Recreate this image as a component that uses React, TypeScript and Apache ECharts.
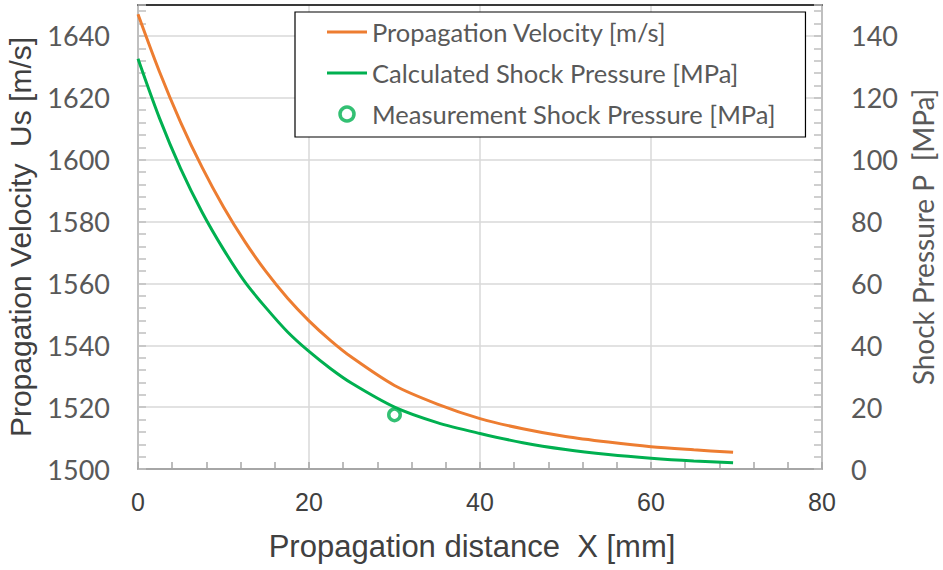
import React, { useEffect, useRef } from "react";
import * as echarts from "echarts";

const distanceMm = [0, 2.5, 5, 7.5, 10, 12.5, 15, 17.5, 20, 22.5, 25, 30, 35, 40, 45, 50, 55, 60, 65, 69.6];
const velocity = [1647, 1628.5, 1612, 1597.5, 1584.7, 1573.5, 1563.7, 1555.2, 1547.9, 1541.6, 1536.1, 1527, 1521, 1516.3, 1513, 1510.5, 1508.7, 1507.2, 1506.2, 1505.4];
const pressureCalc = [132.6, 113.5, 97, 83, 71, 60.5, 52, 44.3, 38, 32.5, 27.7, 20, 15, 11.5, 8.5, 6.3, 4.7, 3.5, 2.6, 2.0];
const measX = [30];
const measP = [17.5];

const seriesNames = [
  "Propagation Velocity [m/s]",
  "Calculated Shock Pressure [MPa]",
  "Measurement Shock Pressure [MPa]",
];

const ORANGE = "#ED7D31";
const GREEN = "#00B050";
const GRID = "#D9D9D9";
const AXIS = "#BFBFBF";
const CAL = "Lato, 'Noto Sans', sans-serif";
const ARIAL = "'Liberation Sans', Arial, sans-serif";
const LINE_ICON = "path://M0,0 L40,0 L40,3 L0,3 Z";

export default function App() {
  const ref = useRef<HTMLDivElement>(null);
  useEffect(() => {
    if (!ref.current) return;
    const chart = echarts.init(ref.current, undefined, { renderer: "svg" });
    const tickAxisY = (min: number, max: number, position: string) => ({
      type: "value",
      min,
      max,
      interval: 4,
      position,
      axisLine: { show: false, onZero: false },
      axisTick: { show: true, inside: true, length: 8, lineStyle: { color: AXIS, width: 1.5 } },
      axisLabel: { show: false },
      splitLine: { show: false },
    });
    const fmt = (v: number) => String(v);
    chart.setOption({
      animation: false,
      backgroundColor: "#fff",
      grid: { left: 138, right: 121, top: 5, bottom: 101, outerBoundsMode: "none" },
      legend: {
        orient: "vertical",
        left: 295,
        top: 12,
        padding: [6, 30, 9, 32],
        itemGap: 13,
        itemWidth: 40,
        itemHeight: 14,
        borderColor: "#000",
        borderWidth: 1.2,
        backgroundColor: "#fff",
        textStyle: { fontFamily: CAL, fontSize: 25.5, color: "#595959", lineHeight: 28 },
        data: [
          { name: seriesNames[0], icon: LINE_ICON },
          { name: seriesNames[1], icon: LINE_ICON },
          {
            name: seriesNames[2],
            icon: "circle",
            itemStyle: { color: "#fff", borderColor: GREEN, borderWidth: 3.5 },
          },
        ],
      },
      xAxis: [
        {
          type: "value",
          min: 0,
          max: 80,
          interval: 20,
          position: "bottom",
          axisLine: { show: true, onZero: false, lineStyle: { color: "#A6A6A6", width: 2 } },
          axisTick: { show: true, inside: true, length: 7, lineStyle: { color: "#A6A6A6", width: 1.5 } },
          minorTick: { show: true, splitNumber: 5, length: 7, lineStyle: { color: "#A6A6A6", width: 1.5 } },
          splitLine: { show: true, lineStyle: { color: GRID, width: 1.5 } },
          axisLabel: { fontFamily: ARIAL, fontSize: 25, color: "#404040", margin: 20, formatter: fmt },
          name: "Propagation distance  X [mm]",
          nameLocation: "middle",
          nameGap: 62,
          nameMoveOverlap: false,
          nameTextStyle: { fontFamily: ARIAL, fontSize: 31, color: "#404040", padding: [0, 16, 0, 0] },
        },
        {
          type: "value",
          min: 0,
          max: 80,
          position: "top",
          axisLine: { show: true, onZero: false, lineStyle: { color: "#000", width: 1.5 } },
          axisTick: { show: false },
          axisLabel: { show: false },
          splitLine: { show: false },
        },
      ],
      yAxis: [
        {
          type: "value",
          min: 1500,
          max: 1650,
          interval: 20,
          position: "left",
          axisLine: { show: true, onZero: false, lineStyle: { color: AXIS, width: 2 } },
          axisTick: { show: false },
          splitLine: { show: true, lineStyle: { color: GRID, width: 1.5 } },
          axisLabel: { fontFamily: CAL, fontSize: 27, color: "#595959", margin: 28, showMaxLabel: false, formatter: fmt },
          name: "Propagation Velocity  Us [m/s]",
          nameLocation: "middle",
          nameRotate: 90,
          nameGap: 103,
          nameMoveOverlap: false,
          nameTextStyle: { fontFamily: ARIAL, fontSize: 30, color: "#404040" },
        },
        {
          type: "value",
          min: 0,
          max: 150,
          interval: 20,
          position: "right",
          axisLine: { show: true, onZero: false, lineStyle: { color: AXIS, width: 2 } },
          axisTick: { show: false },
          splitLine: { show: false },
          axisLabel: { fontFamily: CAL, fontSize: 27, color: "#595959", margin: 29, showMaxLabel: false, formatter: fmt },
          name: "Shock Pressure P  [MPa]",
          nameLocation: "middle",
          nameRotate: 90,
          nameGap: 87,
          nameMoveOverlap: false,
          nameTextStyle: { fontFamily: CAL, fontSize: 28, color: "#595959" },
        },
        tickAxisY(1500, 1650, "left"),
        tickAxisY(0, 150, "right"),
      ],
      series: [
        {
          name: seriesNames[0],
          type: "line",
          xAxisIndex: 0,
          yAxisIndex: 0,
          data: distanceMm.map((x, i) => [x, velocity[i]]),
          smooth: 0.3,
          symbol: "none",
          lineStyle: { color: ORANGE, width: 3 },
          itemStyle: { color: ORANGE },
          z: 3,
        },
        {
          name: seriesNames[1],
          type: "line",
          xAxisIndex: 0,
          yAxisIndex: 1,
          data: distanceMm.map((x, i) => [x, pressureCalc[i]]),
          smooth: 0.3,
          symbol: "none",
          lineStyle: { color: GREEN, width: 3 },
          itemStyle: { color: GREEN },
          z: 3,
        },
        {
          name: seriesNames[2],
          type: "scatter",
          xAxisIndex: 0,
          yAxisIndex: 1,
          data: measX.map((x, i) => [x, measP[i]]),
          symbol: "circle",
          symbolSize: 11.5,
          itemStyle: { color: "#fff", borderColor: GREEN, borderWidth: 3.5 },
          z: 4,
        },
      ],
    });
    return () => chart.dispose();
  }, []);
  return (
    <div
      ref={ref}
      style={{ position: "absolute", left: 0, top: 0, width: 943, height: 570, background: "#fff" }}
    />
  );
}
